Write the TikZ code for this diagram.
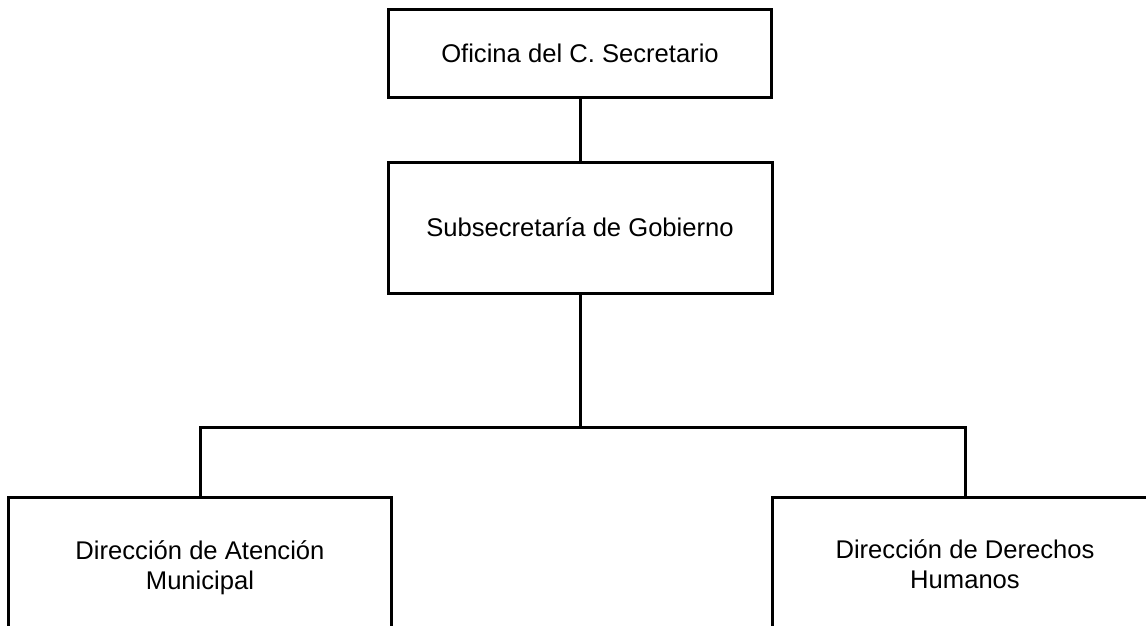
\documentclass[tikz,border=0pt]{standalone}
\usepackage{fontspec}
\setmainfont{Liberation Sans}
\begin{document}
\begin{tikzpicture}[x=1pt,y=-1pt,
  orgbox/.style={draw=black, line width=3pt, fill=white, inner sep=0pt, align=center,
    font=\fontsize{25.6}{30}\selectfont},
  link/.style={draw=black, line width=3pt}]
\useasboundingbox (0,0) rectangle (1146,625);
\clip (0,0) rectangle (1146,625);
\node[orgbox, minimum width=383pt, minimum height=88pt] (top) at (580,53) {Oficina del C. Secretario};
\node[orgbox, minimum width=384pt, minimum height=131pt] (sub) at (580,227.5) {Subsecretaría de Gobierno};
\node[orgbox, minimum width=383pt, minimum height=142pt] (left) at (200,568) {Dirección de Atención\\Municipal};
\node[orgbox, minimum width=386pt, minimum height=134pt] (right) at (965,564) {Dirección de Derechos\\Humanos};
\coordinate (junction) at (580,427);
\draw[link] (top.south) -- (sub.north);
\draw[link] (sub.south) -- (junction);
\draw[link] (left.north) |- (junction) -| (right.north);
\end{tikzpicture}
\end{document}
